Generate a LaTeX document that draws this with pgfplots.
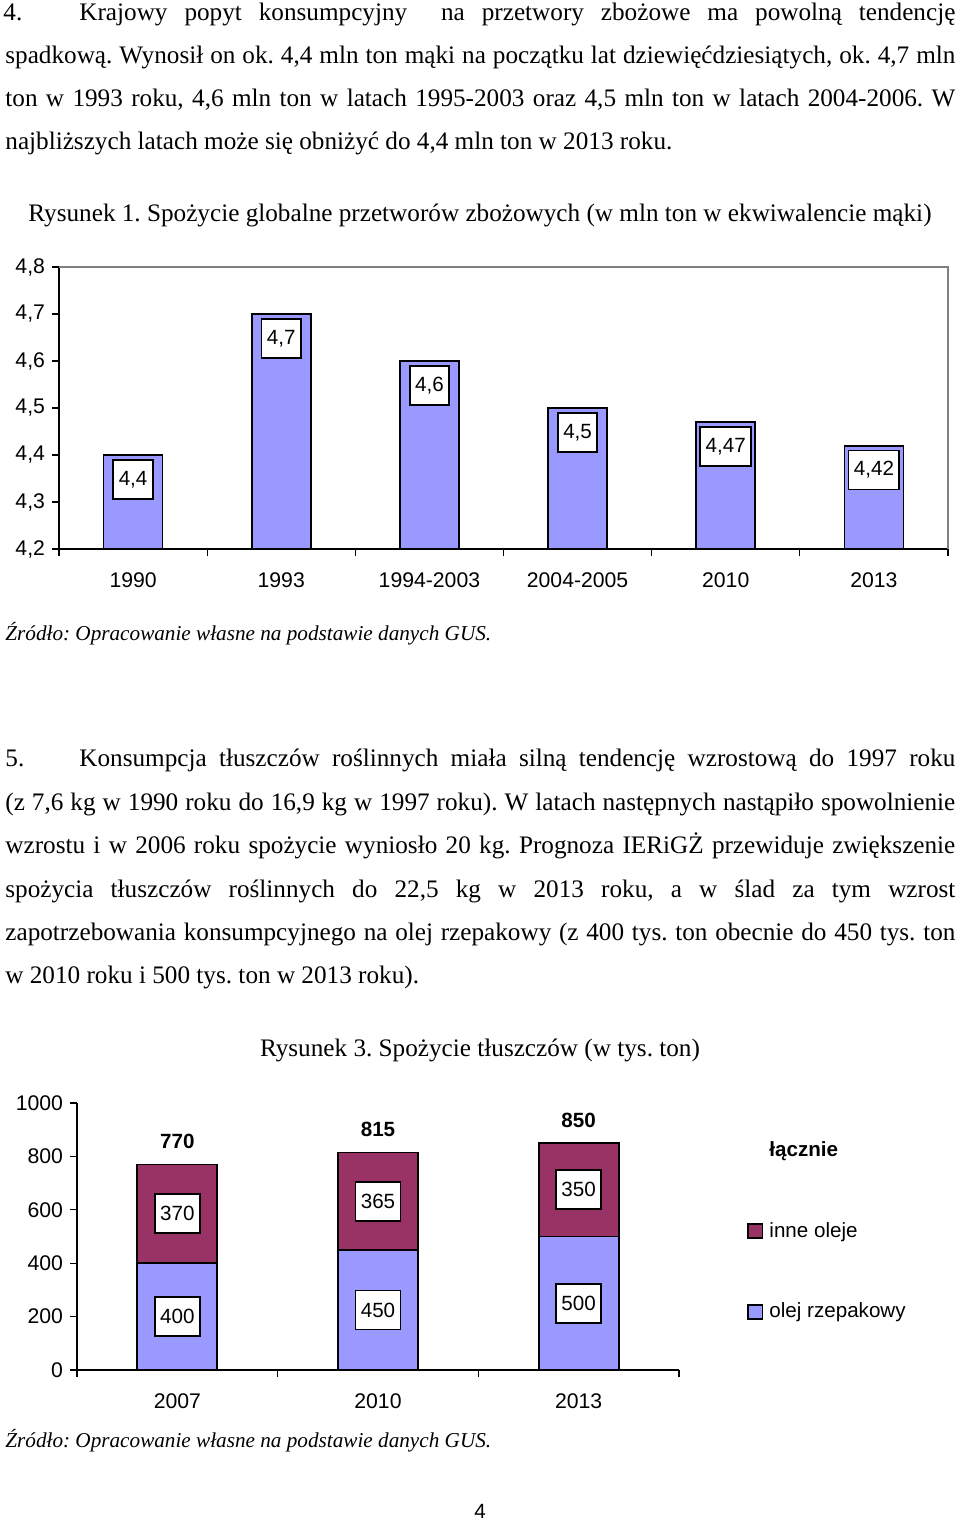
\documentclass[border=0pt]{standalone}
\usepackage{pgfplots}
\pgfplotsset{compat=1.18}
\usepackage{fontspec}
\setmainfont{Liberation Serif}
\newfontfamily\arial{Liberation Sans}
\definecolor{lav}{HTML}{9999FF}
\definecolor{plum}{HTML}{993366}
\pgfkeys{/pgf/number format/.cd, assume math mode=true}
\newcommand\cf{\arial\fontsize{10.3}{12}\selectfont}
\newcommand\tf{\arial\fontsize{10.6}{12}\selectfont}
\begin{document}
\begin{tikzpicture}[x=0.5pt,y=0.5pt,
  tx/.style={anchor=base west, inner sep=0pt, font=\fontsize{12.6}{15}\selectfont\frenchspacing},
  src/.style={anchor=base west, inner sep=0pt, font=\fontsize{10.6}{12}\selectfont\itshape\frenchspacing},
  lbox/.style={draw=black, fill=white, line width=0.9pt, inner xsep=2.7pt, inner ysep=0pt, minimum height=19.5pt, font=\cf}]
\useasboundingbox (0,0) rectangle (960,-1521);
% ---------- paragraph 4 ----------
\node[tx] at (3,-20) {4.};
\node[tx] at (79,-20) {\makebox[438pt][s]{Krajowy popyt konsumpcyjny\ \ na przetwory zbożowe ma powolną tendencję}};
\node[tx] at (5,-63) {\makebox[475pt][s]{spadkową. Wynosił on ok. 4,4 mln ton mąki na początku lat dziewięćdziesiątych, ok. 4,7 mln}};
\node[tx] at (5,-106) {\makebox[475pt][s]{ton w 1993 roku, 4,6 mln ton w latach 1995-2003 oraz 4,5 mln ton w latach 2004-2006. W}};
\node[tx] at (5,-149) {najbliższych latach może się obniżyć do 4,4 mln ton w 2013 roku.};
\node[tx, anchor=base] at (480,-221) {Rysunek 1. Spożycie globalne przetworów zbożowych (w mln ton w ekwiwalencie mąki)};
% ---------- chart 1 ----------
\begin{axis}[name=ax1, at={(29.5pt,-274.5pt)}, anchor=south west,
  scale only axis, width=444.5pt, height=141pt,
  ybar, bar width=29.5pt, bar shift=0pt,
  xmin=-0.5, xmax=5.5, ymin=4.2, ymax=4.8,
  axis x line*=bottom, axis y line*=left,
  axis line style={black, line width=0.6pt},
  xtick={0,1,2,3,4,5},
  xticklabels={1990,1993,1994-2003,2004-2005,2010,2013},
  minor xtick={-0.5,0.5,1.5,2.5,3.5,4.5,5.5},
  major x tick style={draw=none},
  minor x tick style={black, line width=0.6pt},
  ytick={4.2,4.3,4.4,4.5,4.6,4.7,4.8},
  y tick style={black, line width=0.6pt},
  tick align=outside, major tick length=3.5pt, minor tick length=3.5pt,
  ticklabel style={font=\tf},
  yticklabel style={/pgf/number format/.cd, use comma, fixed, fixed zerofill, precision=1},
  xticklabel style={yshift=-5pt},
]
\addplot[fill=lav, draw=black, line width=0.9pt,
  nodes near coords={\pgfmathprintnumber[use comma, fixed, precision=2]{\pgfplotspointmeta}},
  every node near coord/.style={lbox, anchor=north, yshift=-2pt}]
  coordinates {(0,4.4) (1,4.7) (2,4.6) (3,4.5) (4,4.47) (5,4.42)};
\end{axis}
\draw[gray, line width=0.6pt] (ax1.north west) -- (ax1.north east) -- (ax1.south east);
\node[src] at (5,-640) {Źródło: Opracowanie własne na podstawie danych GUS.};
% ---------- paragraph 5 ----------
\node[tx] at (5,-766) {5.};
\node[tx] at (79,-766) {\makebox[438pt][s]{Konsumpcja tłuszczów roślinnych miała silną tendencję wzrostową do 1997 roku}};
\node[tx] at (5,-810) {\makebox[475pt][s]{(z 7,6 kg w 1990 roku do 16,9 kg w 1997 roku). W latach następnych nastąpiło spowolnienie}};
\node[tx] at (5,-853) {\makebox[475pt][s]{wzrostu i w 2006 roku spożycie wyniosło 20 kg. Prognoza IERiGŻ przewiduje zwiększenie}};
\node[tx] at (5,-897) {\makebox[475pt][s]{spożycia tłuszczów roślinnych do 22,5 kg w 2013 roku, a w ślad za tym wzrost}};
\node[tx] at (5,-940) {\makebox[475pt][s]{zapotrzebowania konsumpcyjnego na olej rzepakowy (z 400 tys. ton obecnie do 450 tys. ton}};
\node[tx] at (5,-983) {w 2010 roku i 500 tys. ton w 2013 roku).};
\node[tx, anchor=base] at (480,-1056) {Rysunek 3. Spożycie tłuszczów (w tys. ton)};
% ---------- chart 2 ----------
\begin{axis}[name=ax2, at={(38.5pt,-685pt)}, anchor=south west,
  scale only axis, width=301pt, height=133.5pt,
  ybar, bar width=40pt, bar shift=0pt,
  xmin=-0.5, xmax=2.5, ymin=0, ymax=1000,
  axis x line*=bottom, axis y line*=left,
  axis line style={black, line width=0.6pt},
  xtick={0,1,2}, xticklabels={2007,2010,2013},
  minor xtick={-0.5,0.5,1.5,2.5},
  major x tick style={draw=none},
  minor x tick style={black, line width=0.6pt},
  ytick={0,200,400,600,800,1000},
  y tick style={black, line width=0.6pt},
  tick align=outside, major tick length=3.5pt, minor tick length=3.5pt,
  ticklabel style={font=\tf},
  yticklabel style={/pgf/number format/1000 sep={}},
  xticklabel style={yshift=-5pt},
  legend style={at={(axis description cs:1.113,0.866)}, anchor=north west,
    draw=none, fill=none, inner sep=0pt, row sep=29.5pt, column sep=2pt, font=\cf,
    nodes={inner sep=1pt}},
  legend cell align=left,
]
\addplot[fill=plum, draw=black, line width=0.9pt, forget plot,
  nodes near coords,
  every node near coord/.style={font=\cf\bfseries, anchor=south, yshift=3.9pt}]
  coordinates {(0,770) (1,815) (2,850)};
\addplot[fill=lav, draw=black, line width=0.9pt, forget plot]
  coordinates {(0,400) (1,450) (2,500)};
\addplot[draw=none, fill=none, forget plot, point meta=explicit,
  nodes near coords,
  every node near coord/.style={lbox, anchor=center}]
  table[meta=v] {
x y v
0 200 400
1 225 450
2 250 500
0 585 370
1 632.5 365
2 675 350
};
\addlegendimage{empty legend}
\addlegendentry{\bfseries łącznie}
\addlegendimage{legend image code/.code={\draw[fill=plum, draw=black, line width=0.8pt] (0pt,-3.6pt) rectangle (7.2pt,3.6pt);}}
\addlegendentry{inne oleje}
\addlegendimage{legend image code/.code={\draw[fill=lav, draw=black, line width=0.8pt] (0pt,-3.6pt) rectangle (7.2pt,3.6pt);}}
\addlegendentry{olej rzepakowy}
\end{axis}
\node[src] at (5,-1447) {Źródło: Opracowanie własne na podstawie danych GUS.};
\node[anchor=base, inner sep=0pt, font=\cf] at (480,-1518) {4};
\end{tikzpicture}
\end{document}
